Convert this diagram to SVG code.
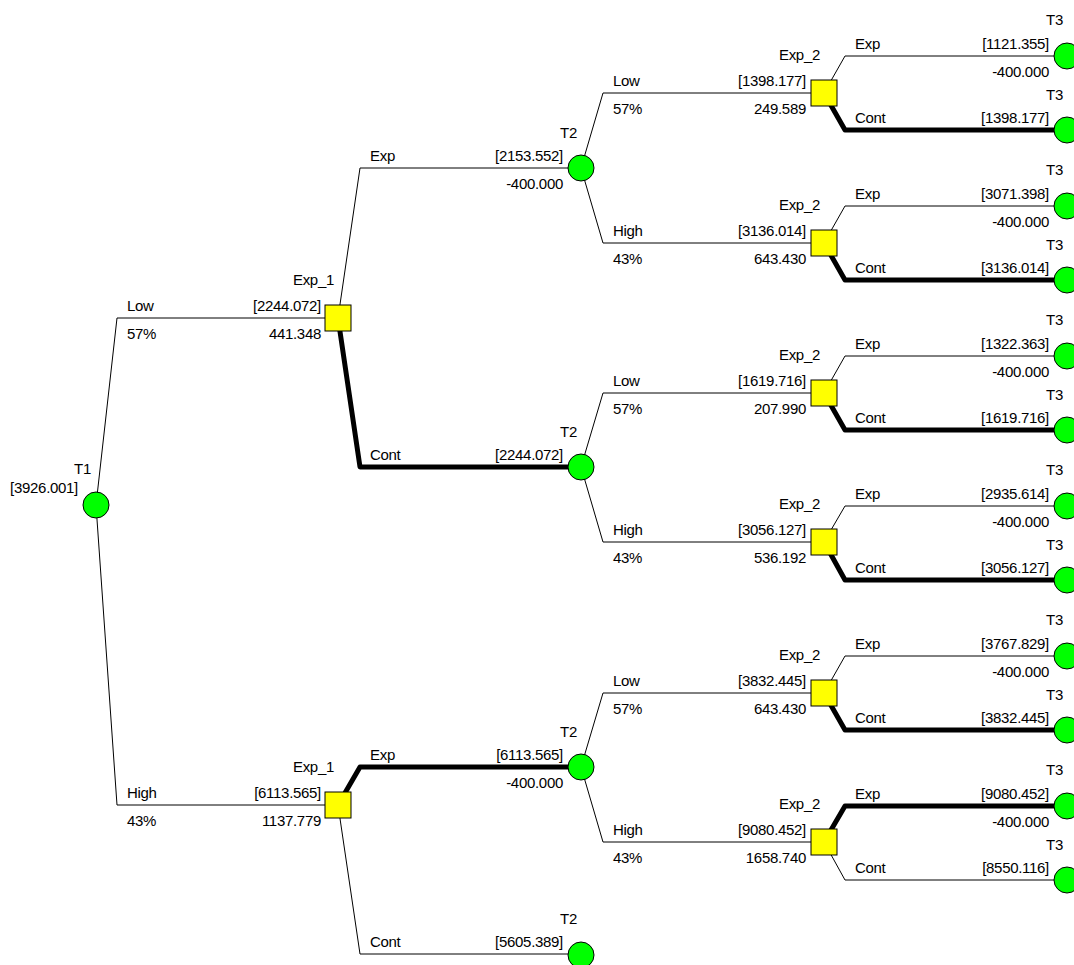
<svg xmlns="http://www.w3.org/2000/svg" width="1074" height="965" viewBox="0 0 1074 965">
<style>
text{font-family:"Liberation Sans",Arial,sans-serif;font-size:15px;letter-spacing:-0.3px;fill:#000}
.r{text-anchor:end}
.ln{fill:none;stroke:#000;stroke-width:1;stroke-linejoin:round}
.tk{fill:none;stroke:#000;stroke-width:5;stroke-linejoin:round}
.ch{fill:#00ff00;stroke:#000;stroke-width:1}
.dc{fill:#ffff00;stroke:#000;stroke-width:1}
</style>
<rect width="1074" height="965" fill="#fff"/>
<g id="connectors">
  <path class="ln" d="M96 505 L117 318 L338 318"/>
  <path class="ln" d="M96 505 L117 805 L338 805"/>
  <path class="ln" d="M338 318 L360 168 L581 168"/>
  <path class="tk" d="M338 318 L360 467 L581 467"/>
  <path class="ln" d="M581 168 L603 93 L824 93"/>
  <path class="ln" d="M581 168 L603 243 L824 243"/>
  <path class="ln" d="M581 467 L603 393 L824 393"/>
  <path class="ln" d="M581 467 L603 542 L824 542"/>
  <path class="tk" d="M338 805 L360 767 L581 767"/>
  <path class="ln" d="M338 805 L360 954 L581 954"/>
  <path class="ln" d="M581 767 L603 693 L824 693"/>
  <path class="ln" d="M581 767 L603 842 L824 842"/>
  <path class="ln" d="M824 93 L845 56 L1067 56"/>
  <path class="tk" d="M824 93 L845 130 L1067 130"/>
  <path class="ln" d="M824 243 L845 206 L1067 206"/>
  <path class="tk" d="M824 243 L845 280 L1067 280"/>
  <path class="ln" d="M824 393 L845 356 L1067 356"/>
  <path class="tk" d="M824 393 L845 430 L1067 430"/>
  <path class="ln" d="M824 542 L845 506 L1067 506"/>
  <path class="tk" d="M824 542 L845 580 L1067 580"/>
  <path class="ln" d="M824 693 L845 656 L1067 656"/>
  <path class="tk" d="M824 693 L845 730 L1067 730"/>
  <path class="tk" d="M824 842 L845 806 L1067 806"/>
  <path class="ln" d="M824 842 L845 880 L1067 880"/>
  <text x="127" y="311">Low</text><text x="127" y="339">57%</text>
  <text class="r" x="321" y="311">[2244.072]</text><text class="r" x="321" y="339">441.348</text>
  <text x="127" y="798">High</text><text x="127" y="826">43%</text>
  <text class="r" x="321" y="798">[6113.565]</text><text class="r" x="321" y="826">1137.779</text>
  <text x="370" y="161">Exp</text>
  <text class="r" x="563" y="161">[2153.552]</text><text class="r" x="563" y="189">-400.000</text>
  <text x="370" y="460">Cont</text>
  <text class="r" x="563" y="460">[2244.072]</text>
  <text x="370" y="760">Exp</text>
  <text class="r" x="563" y="760">[6113.565]</text><text class="r" x="563" y="788">-400.000</text>
  <text x="370" y="947">Cont</text>
  <text class="r" x="563" y="947">[5605.389]</text>
  <text x="613" y="86">Low</text><text x="613" y="114">57%</text>
  <text class="r" x="806" y="86">[1398.177]</text><text class="r" x="806" y="114">249.589</text>
  <text x="613" y="236">High</text><text x="613" y="264">43%</text>
  <text class="r" x="806" y="236">[3136.014]</text><text class="r" x="806" y="264">643.430</text>
  <text x="613" y="386">Low</text><text x="613" y="414">57%</text>
  <text class="r" x="806" y="386">[1619.716]</text><text class="r" x="806" y="414">207.990</text>
  <text x="613" y="535">High</text><text x="613" y="563">43%</text>
  <text class="r" x="806" y="535">[3056.127]</text><text class="r" x="806" y="563">536.192</text>
  <text x="613" y="686">Low</text><text x="613" y="714">57%</text>
  <text class="r" x="806" y="686">[3832.445]</text><text class="r" x="806" y="714">643.430</text>
  <text x="613" y="835">High</text><text x="613" y="863">43%</text>
  <text class="r" x="806" y="835">[9080.452]</text><text class="r" x="806" y="863">1658.740</text>
  <text x="855" y="49">Exp</text>
  <text class="r" x="1049" y="49">[1121.355]</text><text class="r" x="1049" y="77">-400.000</text>
  <text x="855" y="123">Cont</text><text class="r" x="1049" y="123">[1398.177]</text>
  <text x="855" y="199">Exp</text>
  <text class="r" x="1049" y="199">[3071.398]</text><text class="r" x="1049" y="227">-400.000</text>
  <text x="855" y="273">Cont</text><text class="r" x="1049" y="273">[3136.014]</text>
  <text x="855" y="349">Exp</text>
  <text class="r" x="1049" y="349">[1322.363]</text><text class="r" x="1049" y="377">-400.000</text>
  <text x="855" y="423">Cont</text><text class="r" x="1049" y="423">[1619.716]</text>
  <text x="855" y="499">Exp</text>
  <text class="r" x="1049" y="499">[2935.614]</text><text class="r" x="1049" y="527">-400.000</text>
  <text x="855" y="573">Cont</text><text class="r" x="1049" y="573">[3056.127]</text>
  <text x="855" y="649">Exp</text>
  <text class="r" x="1049" y="649">[3767.829]</text><text class="r" x="1049" y="677">-400.000</text>
  <text x="855" y="723">Cont</text><text class="r" x="1049" y="723">[3832.445]</text>
  <text x="855" y="799">Exp</text>
  <text class="r" x="1049" y="799">[9080.452]</text><text class="r" x="1049" y="827">-400.000</text>
  <text x="855" y="873">Cont</text><text class="r" x="1049" y="873">[8550.116]</text>
</g>
<g id="T1"><circle class="ch" cx="96" cy="505" r="13"/><text class="r" x="91" y="474">T1</text><text class="r" x="78" y="493">[3926.001]</text></g>
<g id="Exp_1a"><rect class="dc" x="325" y="305" width="26" height="26"/><text class="r" x="334" y="285">Exp_1</text></g>
<g id="Exp_1b"><rect class="dc" x="325" y="792" width="26" height="26"/><text class="r" x="334" y="772">Exp_1</text></g>
<g id="T2a"><circle class="ch" cx="581" cy="168" r="13"/><text class="r" x="577" y="138">T2</text></g>
<g id="T2b"><circle class="ch" cx="581" cy="467" r="13"/><text class="r" x="577" y="437">T2</text></g>
<g id="T2c"><circle class="ch" cx="581" cy="767" r="13"/><text class="r" x="577" y="737">T2</text></g>
<g id="T2d"><circle class="ch" cx="581" cy="955" r="13"/><text class="r" x="577" y="924">T2</text></g>
<g id="Exp_2a"><rect class="dc" x="811" y="80" width="26" height="26"/><text class="r" x="820" y="60">Exp_2</text></g>
<g id="Exp_2b"><rect class="dc" x="811" y="230" width="26" height="26"/><text class="r" x="820" y="210">Exp_2</text></g>
<g id="Exp_2c"><rect class="dc" x="811" y="380" width="26" height="26"/><text class="r" x="820" y="360">Exp_2</text></g>
<g id="Exp_2d"><rect class="dc" x="811" y="529" width="26" height="26"/><text class="r" x="820" y="509">Exp_2</text></g>
<g id="Exp_2e"><rect class="dc" x="811" y="680" width="26" height="26"/><text class="r" x="820" y="660">Exp_2</text></g>
<g id="Exp_2f"><rect class="dc" x="811" y="829" width="26" height="26"/><text class="r" x="820" y="809">Exp_2</text></g>
<g id="T3a"><circle class="ch" cx="1067" cy="56" r="13"/><text class="r" x="1063" y="25">T3</text></g>
<g id="T3b"><circle class="ch" cx="1067" cy="130" r="13"/><text class="r" x="1063" y="100">T3</text></g>
<g id="T3c"><circle class="ch" cx="1067" cy="206" r="13"/><text class="r" x="1063" y="175">T3</text></g>
<g id="T3d"><circle class="ch" cx="1067" cy="280" r="13"/><text class="r" x="1063" y="250">T3</text></g>
<g id="T3e"><circle class="ch" cx="1067" cy="356" r="13"/><text class="r" x="1063" y="325">T3</text></g>
<g id="T3f"><circle class="ch" cx="1067" cy="430" r="13"/><text class="r" x="1063" y="400">T3</text></g>
<g id="T3g"><circle class="ch" cx="1067" cy="506" r="13"/><text class="r" x="1063" y="475">T3</text></g>
<g id="T3h"><circle class="ch" cx="1067" cy="580" r="13"/><text class="r" x="1063" y="550">T3</text></g>
<g id="T3i"><circle class="ch" cx="1067" cy="656" r="13"/><text class="r" x="1063" y="625">T3</text></g>
<g id="T3j"><circle class="ch" cx="1067" cy="730" r="13"/><text class="r" x="1063" y="700">T3</text></g>
<g id="T3k"><circle class="ch" cx="1067" cy="806" r="13"/><text class="r" x="1063" y="775">T3</text></g>
<g id="T3l"><circle class="ch" cx="1067" cy="880" r="13"/><text class="r" x="1063" y="850">T3</text></g>
</svg>
